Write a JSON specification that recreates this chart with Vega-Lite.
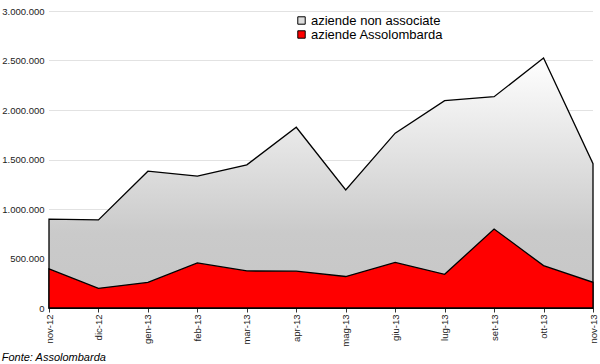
{
  "$schema": "https://vega.github.io/schema/vega-lite/v6.json",
  "width": 544,
  "height": 297,
  "autosize": {"type": "none"},
  "padding": {"left": 49, "top": 11, "right": 7, "bottom": 56},
  "background": "white",
  "config": {
    "view": {"stroke": null},
    "font": "Liberation Sans",
    "locale": {"number": {"decimal": ",", "thousands": ".", "grouping": [3], "currency": ["€", ""]}}
  },
  "title": {
    "text": "Fonte: Assolombarda",
    "orient": "bottom",
    "anchor": "start",
    "frame": "bounds",
    "font": "Liberation Sans",
    "fontSize": 11,
    "fontStyle": "italic",
    "fontWeight": "normal",
    "color": "#000000",
    "offset": 6
  },
  "data": {
    "values": [
      {"mese": "nov-12", "non_associate": 897000, "assolombarda": 395000},
      {"mese": "dic-12", "non_associate": 890000, "assolombarda": 199000},
      {"mese": "gen-13", "non_associate": 1382000, "assolombarda": 258000},
      {"mese": "feb-13", "non_associate": 1333000, "assolombarda": 455000},
      {"mese": "mar-13", "non_associate": 1446000, "assolombarda": 374000},
      {"mese": "apr-13", "non_associate": 1826000, "assolombarda": 372000},
      {"mese": "mag-13", "non_associate": 1192000, "assolombarda": 318000},
      {"mese": "giu-13", "non_associate": 1766000, "assolombarda": 460000},
      {"mese": "lug-13", "non_associate": 2095000, "assolombarda": 340000},
      {"mese": "set-13", "non_associate": 2134000, "assolombarda": 798000},
      {"mese": "ott-13", "non_associate": 2525000, "assolombarda": 428000},
      {"mese": "nov-13", "non_associate": 1458000, "assolombarda": 260000}
    ]
  },
  "encoding": {
    "x": {
      "field": "mese",
      "type": "ordinal",
      "sort": null,
      "scale": {"type": "point", "padding": 0},
      "axis": {
        "title": null,
        "labelAngle": 270,
        "labelFontSize": 9.5,
        "labelColor": "#222222",
        "labelPadding": 2,
        "domainColor": "#333333",
        "tickColor": "#333333",
        "tickSize": 4,
        "grid": false
      }
    }
  },
  "layer": [
    {
      "mark": {
        "type": "area",
        "fill": {
          "gradient": "linear",
          "x1": 0, "y1": 0, "x2": 0, "y2": 1,
          "stops": [
            {"offset": 0, "color": "#ffffff"},
            {"offset": 0.7, "color": "#cacaca"},
            {"offset": 1, "color": "#c6c6c6"}
          ]
        },
        "stroke": "#000000",
        "strokeWidth": 1.3
      },
      "encoding": {
        "y": {
          "field": "non_associate",
          "type": "quantitative",
          "scale": {"domain": [0, 3000000]},
          "axis": {
            "title": null,
            "values": [0, 500000, 1000000, 1500000, 2000000, 2500000, 3000000],
            "format": ",d",
            "labelFontSize": 9.5,
            "labelColor": "#222222",
            "labelPadding": 5,
            "domain": false,
            "ticks": false,
            "grid": true,
            "gridColor": "#c4c4c4",
            "gridDash": [1, 1]
          }
        },
        "color": {
          "datum": "aziende non associate",
          "scale": {
            "domain": ["aziende non associate", "aziende Assolombarda"],
            "range": ["#dddddd", "#ff0000"]
          },
          "legend": {
            "title": null,
            "orient": "none",
            "legendX": 246,
            "legendY": 3,
            "padding": 0,
            "symbolType": "square",
            "symbolSize": 55,
            "symbolStrokeColor": "#000000",
            "symbolStrokeWidth": 1,
            "symbolOpacity": 1,
            "labelFont": "Liberation Sans",
            "labelFontSize": 13,
            "labelColor": "#000000",
            "labelOffset": 3,
            "rowPadding": 0
          }
        }
      }
    },
    {
      "mark": {"type": "area", "stroke": "#000000", "strokeWidth": 1.3},
      "encoding": {
        "y": {"field": "assolombarda", "type": "quantitative"},
        "color": {"datum": "aziende Assolombarda"}
      }
    }
  ],
  "resolve": {"scale": {"color": "shared"}}
}
